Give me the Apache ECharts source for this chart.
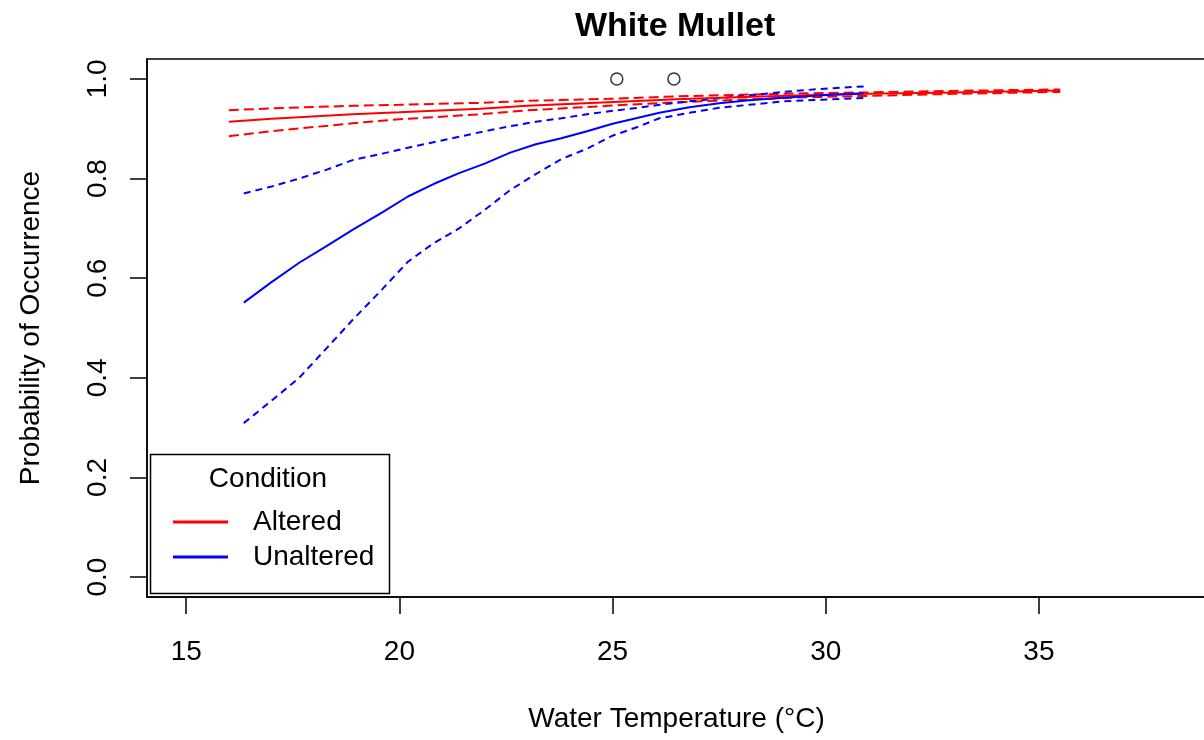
<!DOCTYPE html>
<html>
<head>
<meta charset="utf-8">
<script src="https://cdn.jsdelivr.net/npm/echarts@6/dist/echarts.min.js"></script>
<style>
html,body{margin:0;padding:0;background:#fff;}
#chart{width:1204px;height:740px;}
</style>
</head>
<body>
<div id="chart"></div>
<script>
// ---- data ----
const xTicks = [15, 20, 25, 30, 35];
const yTicks = [0, 0.2, 0.4, 0.6, 0.8, 1.0];

const altTemp  = [16.0, 17.0, 18.9, 20.0, 21.9, 23.0, 24.9, 26.5, 27.9, 29.5, 31.0, 33.0, 35.5];
const altFit   = [0.914, 0.920, 0.929, 0.933, 0.940, 0.946, 0.953, 0.959, 0.963, 0.967, 0.970, 0.973, 0.977];
const altUpper = [0.937, 0.941, 0.946, 0.948, 0.952, 0.956, 0.960, 0.965, 0.968, 0.971, 0.973, 0.976, 0.979];
const altLower = [0.885, 0.895, 0.911, 0.919, 0.929, 0.937, 0.946, 0.953, 0.958, 0.963, 0.966, 0.970, 0.974];

const unaTemp  = [16.35, 17.0, 17.65, 18.3, 18.9, 19.6, 20.2, 20.8, 21.4, 22.0, 22.6, 23.2, 23.8, 24.4, 25.0, 25.6, 26.1, 26.8, 27.5, 28.2, 29.0, 29.9, 30.9];
const unaFit   = [0.551, 0.592, 0.631, 0.665, 0.697, 0.732, 0.764, 0.789, 0.811, 0.830, 0.852, 0.869, 0.881, 0.895, 0.910, 0.922, 0.932, 0.943, 0.951, 0.957, 0.962, 0.967, 0.971];
const unaUpper = [0.770, 0.784, 0.800, 0.818, 0.837, 0.850, 0.862, 0.873, 0.884, 0.895, 0.905, 0.914, 0.921, 0.929, 0.936, 0.942, 0.948, 0.955, 0.961, 0.967, 0.974, 0.980, 0.985];
const unaLower = [0.309, 0.354, 0.400, 0.460, 0.516, 0.578, 0.633, 0.670, 0.700, 0.737, 0.777, 0.809, 0.839, 0.860, 0.886, 0.904, 0.921, 0.932, 0.942, 0.948, 0.955, 0.958, 0.962];

const obsTemp = [25.1, 26.44];
const obsOcc  = [1, 1];

// ---- chart ----
const FONT = '"Liberation Sans", Arial, sans-serif';
const RED = '#ff0000', BLUE = '#0000ff';
const pairs = (xs, ys) => xs.map((x, i) => [x, ys[i]]);

function lineSeries(name, xs, ys, color, dashed) {
  return {
    name: name,
    type: 'line',
    data: pairs(xs, ys),
    showSymbol: false,
    symbol: 'none',
    color: color,
    lineStyle: {color: color, width: 2, type: dashed ? (color === RED ? [10, 5] : [7, 5]) : 'solid'},
    silent: true,
    z: dashed ? 2 : 3
  };
}

const chart = echarts.init(document.getElementById('chart'), null, {renderer: 'canvas'});
chart.setOption({
  animation: false,
  backgroundColor: '#ffffff',
  title: {
    text: 'White Mullet',
    left: 575, top: 10, padding: 0,
    textStyle: {fontFamily: FONT, fontSize: 34, fontWeight: 'bold', color: '#000'}
  },
  grid: {
    left: 147, top: 59, width: 1059, height: 538,
    show: true, borderColor: '#000', borderWidth: 1.5, backgroundColor: 'transparent',
    containLabel: false, outerBoundsMode: 'none'
  },
  xAxis: {
    type: 'value', min: 14.08, max: 38.92,
    name: 'Water Temperature (°C)', nameLocation: 'middle', nameGap: 108,
    nameTextStyle: {fontFamily: FONT, fontSize: 28, color: '#000'},
    axisLine: {show: true, onZero: false, lineStyle: {color: '#000', width: 1.5}},
    axisTick: {show: true, length: 17, lineStyle: {color: '#000', width: 1.5}, customValues: xTicks},
    axisLabel: {fontFamily: FONT, fontSize: 28, color: '#000', margin: 41, customValues: xTicks, formatter: v => String(v)},
    splitLine: {show: false}
  },
  yAxis: {
    type: 'value', min: -0.04, max: 1.04,
    name: 'Probability of Occurrence', nameLocation: 'middle', nameGap: 102,
    nameTextStyle: {fontFamily: FONT, fontSize: 28, color: '#000'},
    axisLine: {show: true, onZero: false, lineStyle: {color: '#000', width: 1.5}},
    axisTick: {show: true, length: 17, lineStyle: {color: '#000', width: 1.5}, customValues: yTicks},
    axisLabel: {fontFamily: FONT, fontSize: 28, color: '#000', margin: 35, rotate: 90, customValues: yTicks, formatter: v => v.toFixed(1)},
    splitLine: {show: false}
  },
  legend: {
    data: ['Altered', 'Unaltered'],
    orient: 'vertical',
    left: 173, top: 508,
    padding: 0,
    itemWidth: 55, itemHeight: 3, itemGap: 7,
    icon: 'rect',
    selectedMode: false,
    textStyle: {fontFamily: FONT, fontSize: 28, color: '#000', padding: [0, 0, 0, 20]}
  },
  graphic: [
    {type: 'rect', left: 148, top: 452, shape: {width: 239, height: 139}, style: {fill: 'none', stroke: '#000', lineWidth: 1.5}, silent: true},
    {type: 'text', x: 268, y: 479, style: {text: 'Condition', fontFamily: FONT, fontSize: 28, fill: '#000', align: 'center', verticalAlign: 'middle'}, silent: true}
  ],
  series: [
    lineSeries('Altered upper', altTemp, altUpper, RED, true),
    lineSeries('Altered lower', altTemp, altLower, RED, true),
    lineSeries('Altered', altTemp, altFit, RED, false),
    lineSeries('Unaltered upper', unaTemp, unaUpper, BLUE, true),
    lineSeries('Unaltered lower', unaTemp, unaLower, BLUE, true),
    lineSeries('Unaltered', unaTemp, unaFit, BLUE, false),
    {
      name: 'Observed', type: 'scatter', data: pairs(obsTemp, obsOcc),
      symbol: 'circle', symbolSize: 12,
      itemStyle: {color: 'rgba(0,0,0,0)', borderColor: '#000', borderWidth: 1.5},
      silent: true, z: 5
    }
  ]
});
</script>
</body>
</html>
